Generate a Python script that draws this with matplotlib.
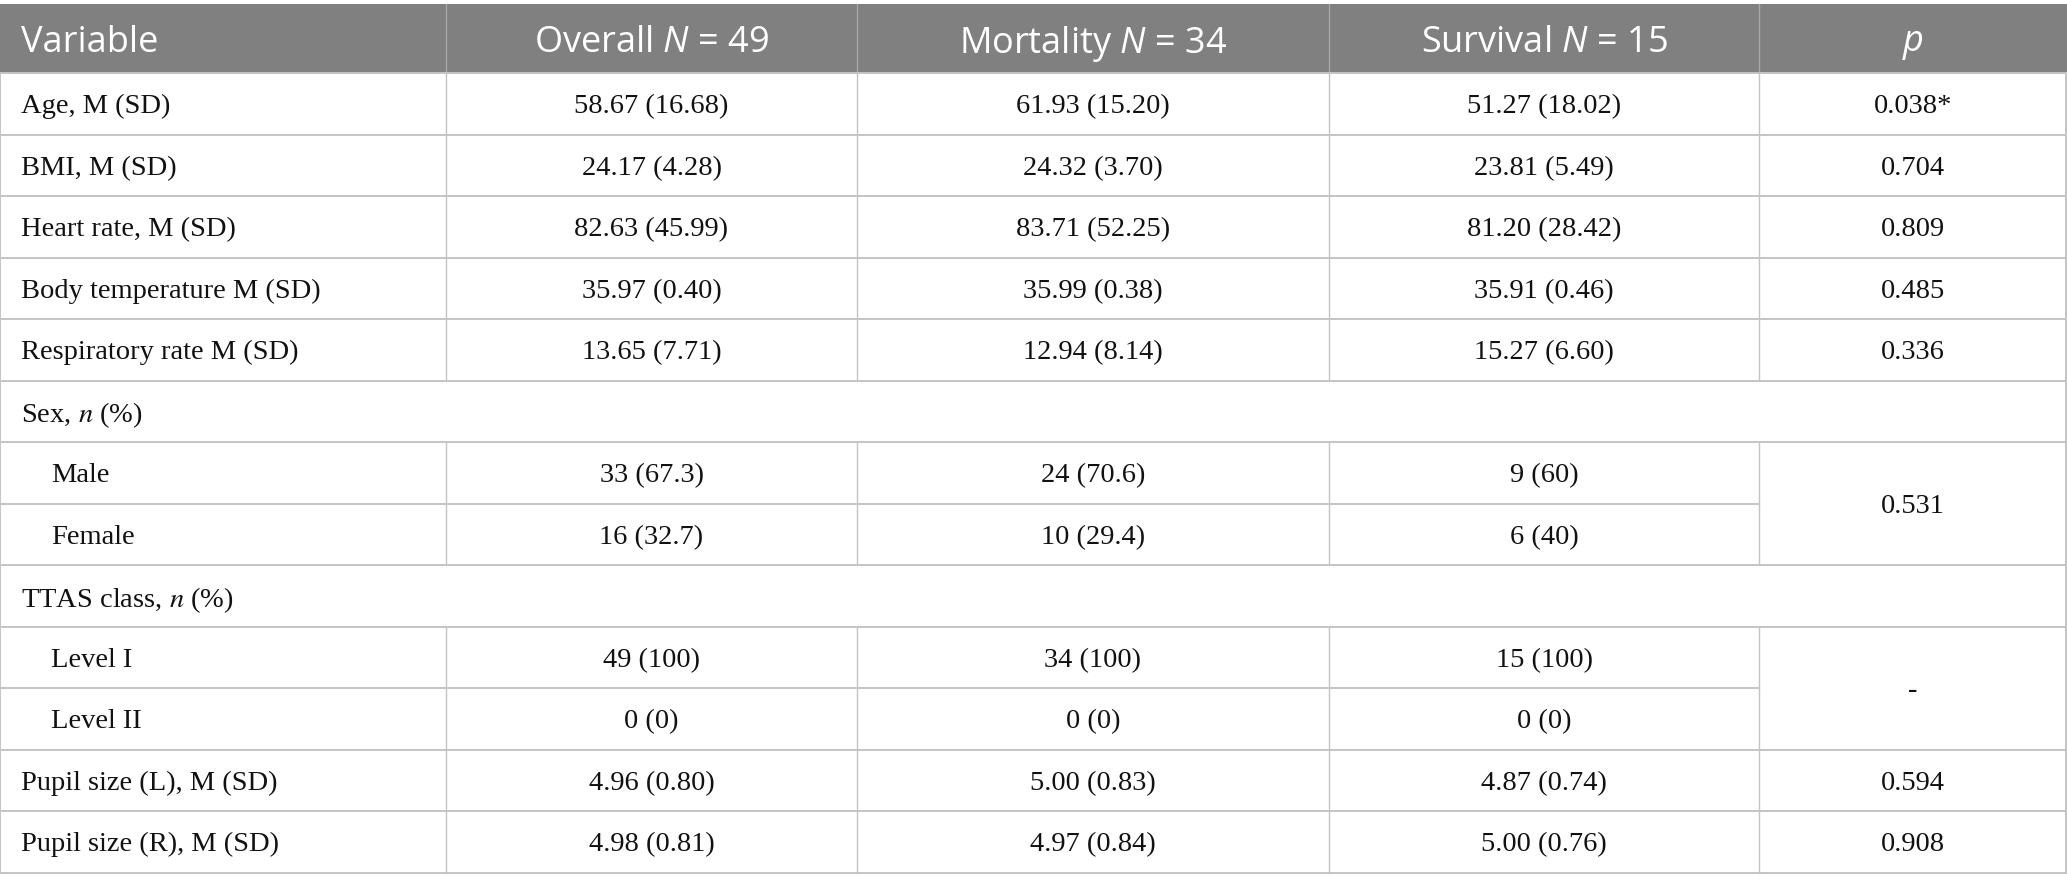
import matplotlib
matplotlib.use("Agg")
import matplotlib.pyplot as plt
from matplotlib.patches import Rectangle

plt.rcParams['mathtext.fontset'] = 'custom'
plt.rcParams['mathtext.it'] = 'Open Sans:italic'
plt.rcParams['mathtext.rm'] = 'Open Sans'

# Table contents
headers = ["Variable", r"Overall $\mathit{N}$ = 49", r"Mortality $\mathit{N}$ = 34",
           r"Survival $\mathit{N}$ = 15", r"$\mathit{p}$"]
variables = ["Age, M (SD)", "BMI, M (SD)", "Heart rate, M (SD)", "Body temperature M (SD)",
             "Respiratory rate M (SD)", "Sex, $n$ (%)", "Male", "Female",
             "TTAS class, $n$ (%)", "Level I", "Level II",
             "Pupil size (L), M (SD)", "Pupil size (R), M (SD)"]
indented = [False, False, False, False, False, False, True, True, False, True, True, False, False]
overall = ["58.67 (16.68)", "24.17 (4.28)", "82.63 (45.99)", "35.97 (0.40)", "13.65 (7.71)", "",
           "33 (67.3)", "16 (32.7)", "", "49 (100)", "0 (0)", "4.96 (0.80)", "4.98 (0.81)"]
mortality = ["61.93 (15.20)", "24.32 (3.70)", "83.71 (52.25)", "35.99 (0.38)", "12.94 (8.14)", "",
             "24 (70.6)", "10 (29.4)", "", "34 (100)", "0 (0)", "5.00 (0.83)", "4.97 (0.84)"]
survival = ["51.27 (18.02)", "23.81 (5.49)", "81.20 (28.42)", "35.91 (0.46)", "15.27 (6.60)", "",
            "9 (60)", "6 (40)", "", "15 (100)", "0 (0)", "4.87 (0.74)", "5.00 (0.76)"]
p_values = ["0.038*", "0.704", "0.809", "0.485", "0.336", "",
            "0.531", None, "", "-", None, "0.594", "0.908"]

# layout (pixels)
W, H = 2067, 890
col_edges = [0, 446, 857, 1329, 1759, 2067]
top, head_h, row_h = 4, 69, 61.5
header_bg = "#808080"
line_col = "#c4c4c4"
serif = "Liberation Serif"
sans = "Open Sans"

fig = plt.figure(figsize=(W / 100, H / 100), dpi=100)
ax = fig.add_axes([0, 0, 1, 1])
ax.set_xlim(0, W)
ax.set_ylim(H, 0)
ax.axis("off")

# header
ax.add_patch(Rectangle((0, top), W, head_h, color=header_bg, lw=0))
hy = top + head_h / 2
for i, h in enumerate(headers):
    if i == 0:
        ax.text(col_edges[0] + 21, hy, h, color="white", fontsize=26, family=sans,
                ha="left", va="center_baseline", math_fontfamily="custom")
    else:
        ax.text((col_edges[i] + col_edges[i + 1]) / 2, hy, h, color="white", fontsize=26,
                family=sans, ha="center", va="center_baseline", math_fontfamily="custom")
for x in col_edges[1:-1]:
    ax.plot([x, x], [top, top + head_h], color="#a8a8a8", lw=1.0)

# body
y0 = top + head_h
columns = [overall, mortality, survival]
for r, var in enumerate(variables):
    ya = y0 + r * row_h
    yb = ya + row_h
    yc = (ya + yb) / 2
    group = overall[r] == ""
    ax.text(col_edges[0] + (51 if indented[r] else 21), yc, var, fontsize=20.5, family=serif,
            ha="left", va="center_baseline", color="#111111", math_fontfamily="stix")
    # bottom line of row (shortened where the p cell continues)
    merged_next = r + 1 < len(p_values) and p_values[r + 1] is None
    x_end = col_edges[4] if merged_next else W
    ax.plot([0, x_end], [yb, yb], color=line_col, lw=1.4)
    if group:
        continue
    for c, col in enumerate(columns):
        ax.text((col_edges[c + 1] + col_edges[c + 2]) / 2, yc, col[r], fontsize=20.5,
                family=serif, ha="center", va="center_baseline", color="#111111")
    if p_values[r] is not None:
        span = 2 if merged_next else 1
        pc = ya + span * row_h / 2
        ax.text((col_edges[4] + col_edges[5]) / 2, pc, p_values[r], fontsize=20.5,
                family=serif, ha="center", va="center_baseline", color="#111111")
    for x in col_edges[1:-1]:
        ax.plot([x, x], [ya, yb], color=line_col, lw=1.0)

# outer edges
for r in range(len(variables)):
    ya = y0 + r * row_h
    ax.plot([0, 0], [ya, ya + row_h], color=line_col, lw=1.4)
    ax.plot([W - 0.7, W - 0.7], [ya, ya + row_h], color=line_col, lw=1.4)
ax.plot([0, W], [y0, y0], color=line_col, lw=1.4)

fig.savefig("out.png", dpi=100)
